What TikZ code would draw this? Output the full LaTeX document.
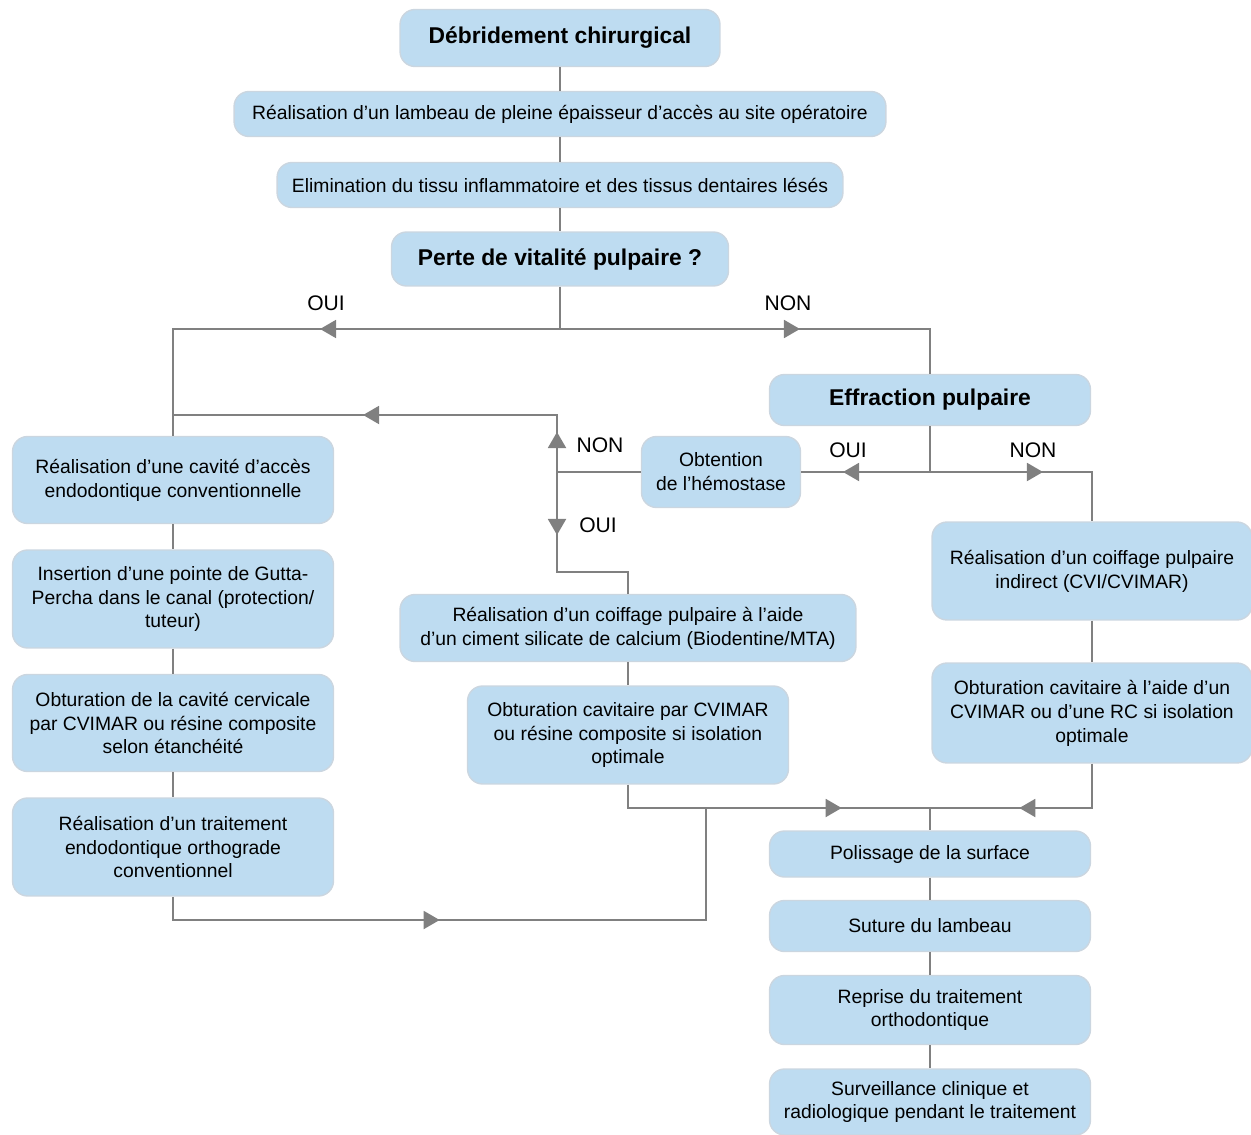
\documentclass[tikz,border=0pt]{standalone}
\usepackage{fontspec}
\setmainfont{Liberation Sans}
\usepackage{xcolor}
\usepackage{tikz}
\usetikzlibrary{arrows.meta,decorations.markings}
\definecolor{boxblue}{RGB}{190,220,241}
\definecolor{boxedge}{RGB}{203,214,224}
\definecolor{linegray}{RGB}{128,128,128}

\begin{document}
\begin{tikzpicture}[x=0.02cm, y=-0.02cm,
    etape/.style={rectangle, rounded corners=0.3cm, draw=boxedge, line width=0.8pt, fill=boxblue, align=center, inner sep=2pt, font=\fontsize{11}{13.6}\selectfont},
    colonne/.style={etape, minimum width=6.42cm},
    titre/.style={etape, font=\fontsize{13}{15}\selectfont\bfseries},
    ligne/.style={draw=linegray, color=linegray, line width=1.1pt},
    fleche/.style={postaction={decorate, decoration={markings, mark=at position #1 with {\arrow{Triangle[width=0.36cm,length=0.32cm]}}}}},
    choix/.style={font=\fontsize{12}{14}\selectfont}]
    \useasboundingbox (0,0) rectangle (1251,1135);

    % tronc commun
    \node [titre, minimum width=6.4cm, minimum height=1.14cm] (debride) at (560,38) {Débridement chirurgical};
    \node [etape, minimum width=13.04cm, minimum height=0.9cm] (lambeau) at (560,114) {Réalisation d’un lambeau de pleine épaisseur d’accès au site opératoire};
    \node [etape, minimum width=11.32cm, minimum height=0.9cm] (elimination) at (560,185) {Elimination du tissu inflammatoire et des tissus dentaires lésés};
    \node [titre, minimum width=6.74cm, minimum height=1.08cm] (perte) at (560,259) {Perte de vitalité pulpaire ?};
    \node [titre, minimum width=6.42cm, minimum height=1.02cm] (effraction) at (930,400) {Effraction pulpaire};
    \node [etape, minimum width=3.18cm, minimum height=1.42cm] (hemostase) at (721,472) {Obtention\\de l’hémostase};

    % colonne de gauche
    \node [colonne, minimum height=1.74cm] (cavite) at (173,480) {Réalisation d’une cavité d’accès\\endodontique conventionnelle};
    \node [colonne, minimum height=1.96cm] (gutta) at (173,599) {Insertion d’une pointe de Gutta-\\Percha dans le canal (protection/\\tuteur)};
    \node [colonne, minimum height=1.94cm] (cervicale) at (173,723) {Obturation de la cavité cervicale\\par CVIMAR ou résine composite\\selon étanchéité};
    \node [colonne, minimum height=1.96cm] (endo) at (173,847) {Réalisation d’un traitement\\endodontique orthograde\\conventionnel};

    % colonne du milieu
    \node [etape, minimum width=9.12cm, minimum height=1.34cm] (coiffage) at (628,628) {Réalisation d’un coiffage pulpaire à l’aide\\d’un ciment silicate de calcium (Biodentine/MTA)};
    \node [colonne, minimum height=1.96cm] (cvimar) at (628,735) {Obturation cavitaire par CVIMAR\\ou résine composite si isolation\\optimale};

    % colonne de droite
    \node [etape, minimum width=6.4cm, minimum height=1.96cm] (indirect) at (1092,571) {Réalisation d’un coiffage pulpaire\\indirect (CVI/CVIMAR)};
    \node [etape, minimum width=6.4cm, minimum height=2cm] (rc) at (1092,713) {Obturation cavitaire à l’aide d’un\\CVIMAR ou d’une RC si isolation\\optimale};

    % fin commune
    \node [colonne, minimum height=0.92cm] (polissage) at (930,854) {Polissage de la surface};
    \node [colonne, minimum height=1.02cm] (suture) at (930,926) {Suture du lambeau};
    \node [colonne, minimum height=1.38cm] (reprise) at (930,1010) {Reprise du traitement\\orthodontique};
    \node [colonne, minimum height=1.32cm] (surveillance) at (930,1102) {Surveillance clinique et\\radiologique pendant le traitement};

    % points de jonction
    \coordinate (j1) at (560,329);
    \coordinate (j2) at (930,472);
    \coordinate (j3) at (557,472);
    \coordinate (j4) at (173,415);
    \coordinate (j5) at (628,572);
    \coordinate (j6) at (706,808);
    \coordinate (j7) at (706,920);
    \coordinate (j8) at (930,808);

    % liaisons
    \draw [ligne] (debride) -- (lambeau);
    \draw [ligne] (lambeau) -- (elimination);
    \draw [ligne] (elimination) -- (perte);
    \draw [ligne] (perte) -- (j1);
    \draw [ligne, fleche=4.8cm] (j1) -| (cavite);
    \draw [ligne, fleche=4.8cm] (j1) -| (effraction);
    \draw [ligne] (effraction) -- (j2);
    \draw [ligne, fleche=1.74cm] (j2) -- (hemostase);
    \draw [ligne, fleche=2.26cm] (j2) -| (indirect);
    \draw [ligne] (hemostase) -- (j3);
    \draw [ligne, fleche=0.8cm, fleche=5.02cm] (j3) |- (j4);
    \draw [ligne, fleche=1.26cm] (j3) |- (j5) -- (coiffage);
    \draw [ligne] (cavite) -- (gutta);
    \draw [ligne] (gutta) -- (cervicale);
    \draw [ligne] (cervicale) -- (endo);
    \draw [ligne, fleche=5.8cm] (endo) |- (j7) -- (j6);
    \draw [ligne] (coiffage) -- (cvimar);
    \draw [ligne, fleche=4.74cm] (cvimar) |- (j8);
    \draw [ligne] (indirect) -- (rc);
    \draw [ligne, fleche=2.34cm] (rc) |- (j8);
    \draw [ligne] (j8) -- (polissage);
    \draw [ligne] (polissage) -- (suture);
    \draw [ligne] (suture) -- (reprise);
    \draw [ligne] (reprise) -- (surveillance);

    % réponses
    \node [choix] (oui1) at (326,303) {OUI};
    \node [choix] (non1) at (788,303) {NON};
    \node [choix] (oui2) at (848,450) {OUI};
    \node [choix] (non2) at (1033,450) {NON};
    \node [choix] (non3) at (600,445) {NON};
    \node [choix] (oui3) at (598,525) {OUI};
\end{tikzpicture}
\end{document}
